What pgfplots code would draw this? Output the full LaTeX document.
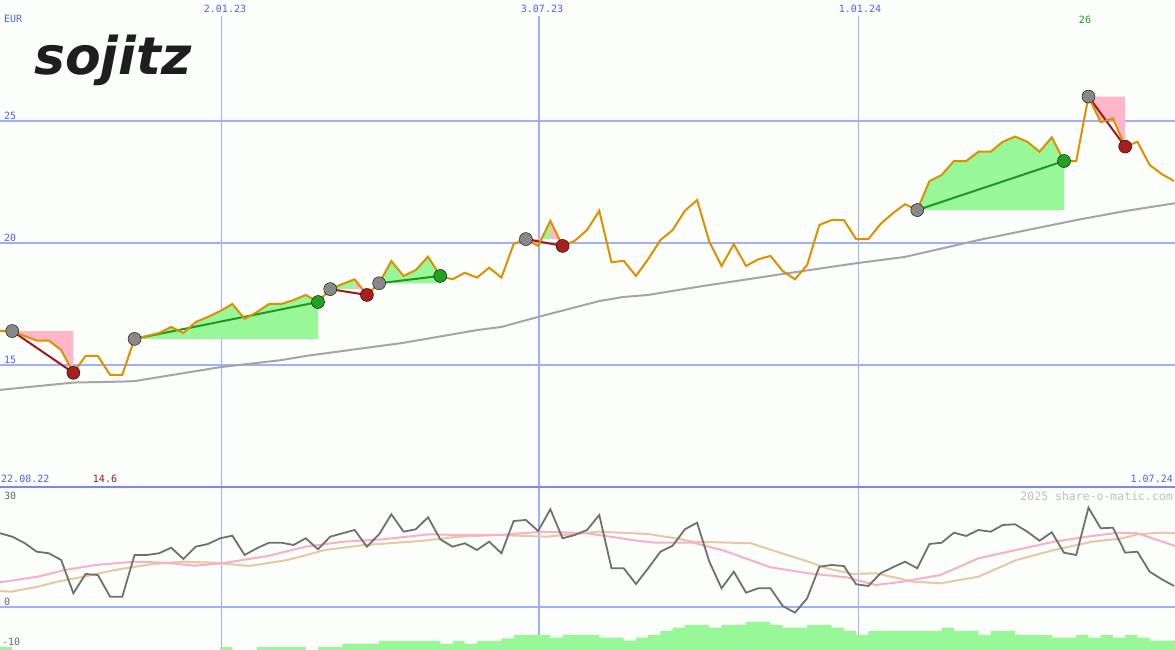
\documentclass[border=0pt]{standalone}
\usepackage{pgfplots}
\pgfplotsset{compat=1.18}
\usepackage{pgfplotstable}
\usepackage{fontspec}
\newfontfamily\mono{DejaVu Sans Mono}
\newfontfamily\logofont{DejaVu Sans}

\definecolor{bg}{RGB}{252,254,252}
\definecolor{gridc}{RGB}{160,176,248}
\definecolor{sepc}{RGB}{120,136,240}
\definecolor{labc}{RGB}{80,96,240}
\definecolor{pricec}{RGB}{221,144,0}
\definecolor{mac}{RGB}{165,165,165}
\definecolor{winfill}{RGB}{152,248,152}
\definecolor{lossfill}{RGB}{255,182,200}
\definecolor{wline}{RGB}{34,150,34}
\definecolor{lline}{RGB}{160,24,24}
\definecolor{entryc}{RGB}{136,136,136}
\definecolor{windot}{RGB}{34,160,34}
\definecolor{lossdot}{RGB}{170,30,30}
\definecolor{oscc}{RGB}{112,112,112}
\definecolor{pinkc}{RGB}{248,176,200}
\definecolor{tanc}{RGB}{232,200,160}
\definecolor{barc}{RGB}{152,248,152}
\definecolor{logoc}{RGB}{30,30,30}
\definecolor{minc}{RGB}{160,24,24}
\definecolor{maxc}{RGB}{34,150,34}

% weekly closing price (EUR), week index k
\pgfplotstableread{
k p
0 16.39
1 16.39
2 16.19
3 16.00
4 16.00
5 15.61
6 14.68
7 15.37
8 15.37
9 14.60
10 14.60
11 16.07
12 16.19
13 16.31
14 16.56
15 16.31
16 16.76
17 16.97
18 17.21
19 17.50
20 16.89
21 17.17
22 17.50
23 17.50
24 17.66
25 17.87
26 17.58
27 18.11
28 18.32
29 18.51
30 17.87
31 18.35
32 19.26
33 18.65
34 18.89
35 19.44
36 18.65
37 18.51
38 18.78
39 18.58
40 18.99
41 18.58
42 19.96
43 20.16
44 19.88
45 20.91
46 19.88
47 20.09
48 20.53
49 21.32
50 19.21
51 19.27
52 18.65
53 19.34
54 20.12
55 20.53
56 21.32
57 21.76
58 20.05
59 19.06
60 19.95
61 19.06
62 19.33
63 19.47
64 18.85
65 18.51
66 19.10
67 20.74
68 20.94
69 20.94
70 20.16
71 20.16
72 20.78
73 21.22
74 21.59
75 21.35
76 22.54
77 22.79
78 23.36
79 23.36
80 23.74
81 23.74
82 24.15
83 24.36
84 24.15
85 23.74
86 24.33
87 23.36
88 23.36
89 26.00
90 24.95
91 25.11
92 23.95
93 24.15
94 23.20
95 22.82
96 22.54
}\price

% moving average
\pgfplotstableread{
k m
0 13.98
6 14.28
10 14.32
11 14.34
18 14.91
23 15.20
25 15.37
33 15.91
39 16.43
41 16.56
44 16.97
49 17.62
51 17.79
53 17.87
57 18.20
64 18.73
70 19.17
74 19.43
80 20.12
88 20.94
92 21.31
96.08 21.63
}\ma

% oscillator
\pgfplotstableread{
k v
0 21.06
1 20.09
2 18.29
3 15.80
4 15.34
5 13.43
6 3.91
7 9.43
8 9.14
9 2.94
10 2.94
11 14.86
12 14.86
13 15.34
14 16.94
15 13.71
16 17.23
17 18.00
18 19.63
19 20.37
20 14.86
21 16.77
22 18.37
23 18.37
24 17.71
25 19.63
26 16.49
27 20.09
28 21.06
29 22.00
30 17.23
31 20.77
32 26.49
33 21.51
34 22.20
35 25.63
36 19.34
37 17.23
38 18.20
39 16.29
40 18.66
41 15.34
42 24.57
43 24.86
44 21.71
45 27.91
46 19.63
47 20.57
48 22.00
49 26.29
50 11.06
51 11.06
52 6.57
53 11.06
54 15.80
55 17.51
56 22.20
57 24.09
58 12.94
59 5.34
60 10.09
61 4.09
62 5.34
63 5.34
64 0.29
65 -1.63
66 2.49
67 11.51
68 12.00
69 11.71
70 6.49
71 6.00
72 9.63
73 11.34
74 12.94
75 11.06
76 18.00
77 18.37
78 21.23
79 20.29
80 22.00
81 21.51
82 23.43
83 23.63
84 21.51
85 18.94
86 21.34
87 15.51
88 14.86
89 28.37
90 22.49
91 22.66
92 15.51
93 15.80
94 10.09
95 7.91
96 6.00
}\osc

\pgfplotstableread{
k v
0 7.06
3.1 8.66
5.3 10.57
7.85 12.00
10.96 12.94
13.5 12.66
15.9 11.80
18.15 12.49
21.9 14.57
25.0 17.23
28.1 18.66
31.3 19.34
35.1 20.77
37.5 20.57
40.7 20.57
44.4 21.51
48 21.06
52.1 18.94
53.6 18.37
56.7 18.37
59.2 16.09
63 11.34
66.1 9.63
69.2 8.49
71.6 6.29
73.8 7.23
76.9 9.14
80 13.91
83.1 16.29
86.2 18.66
89.3 20.29
91.5 21.23
93 21.06
96.08 17.43
}\pinkline

\pgfplotstableread{
k v
0 4.57
0.94 4.37
3.1 5.80
4.66 7.23
6.87 8.66
9.4 10.57
12.5 12.29
15 12.94
17.5 12.66
20.4 11.71
23.5 13.43
26.6 16.29
29.8 17.71
34.4 18.86
37.5 20.09
40.7 20.57
44.7 20.09
49 21.51
53 20.86
55.2 19.63
56.7 18.66
61.4 18.20
63.5 15.80
66.1 12.94
67.6 11.06
69.7 9.43
71.6 9.63
74.7 7.23
76.9 6.77
80 8.66
83.1 13.43
86.2 16.29
89.3 18.66
91.8 19.63
93 20.77
94.9 21.23
96.08 21.06
}\tanline

\pgfplotstableread{
k v
0 -11.5
1 -13
18 -11.5
19 -13
21 -11.5
25 -13
26 -11.5
28 -10.57
31 -9.71
36 -10.57
37 -9.71
38 -10.57
39 -9.71
41 -8.94
42 -8.0
45 -8.77
46 -8.0
49 -8.77
51 -9.63
52 -8.77
53 -8.0
54 -6.86
55 -5.91
56 -5.14
58 -5.91
59 -5.14
61 -4.29
63 -5.14
64 -5.91
66 -5.14
68 -5.91
69 -6.86
70 -8.0
71 -6.86
77 -5.91
78 -6.86
80 -8.0
81 -6.86
83 -8.0
86 -8.77
88 -8.0
89 -8.77
90 -8.0
91 -8.77
92 -8.0
93 -8.77
94 -9.63
96.1 -9.63
}\bars

\begin{document}
\begin{tikzpicture}[x=1pt,y=1pt]
\path[use as bounding box, fill=bg] (0pt,0pt) rectangle (1175pt,650pt);
% grid
\draw[gridc, line width=2pt] (0pt,529pt) -- (1175pt,529pt);
\draw[gridc, line width=2pt] (0pt,407pt) -- (1175pt,407pt);
\draw[gridc, line width=2pt] (0pt,285pt) -- (1175pt,285pt);
\draw[gridc, line width=2pt] (0pt,43pt) -- (1175pt,43pt);
\draw[gridc, line width=1pt] (221.5pt,0pt) -- (221.5pt,634pt);
\draw[gridc, line width=2pt] (539pt,0pt) -- (539pt,634pt);
\draw[gridc, line width=1pt] (858.5pt,0pt) -- (858.5pt,634pt);
\draw[sepc, line width=2pt] (0pt,162.5pt) -- (1175pt,162.5pt);

% main price panel
\begin{axis}[at={(0pt,163pt)}, anchor=south west, scale only axis,
  width=1175pt, height=487pt, xmin=0, xmax=96.08, ymin=10, ymax=29.959,
  hide axis, clip=true]
% trade areas
\addplot[fill=lossfill, draw=none] coordinates {(1,16.39) (2,16.19) (3,16.00) (4,16.00) (5,15.61) (6,14.68) (6,16.39)} -- cycle;
\addplot[fill=winfill, draw=none] coordinates {(11,16.07) (12,16.19) (13,16.31) (14,16.56) (15,16.31) (16,16.76) (17,16.97) (18,17.21) (19,17.50) (20,16.89) (21,17.17) (22,17.50) (23,17.50) (24,17.66) (25,17.87) (26,17.58) (26,16.07)} -- cycle;
\addplot[fill=winfill, draw=none] coordinates {(27,18.11) (28,18.32) (29,18.51) (29,18.11)} -- cycle;
\addplot[fill=lossfill, draw=none] coordinates {(29,18.11) (29,18.51) (30,17.87) (30,18.11)} -- cycle;
\addplot[fill=winfill, draw=none] coordinates {(31,18.35) (32,19.26) (33,18.65) (34,18.89) (35,19.44) (36,18.65) (36,18.35)} -- cycle;
\addplot[fill=lossfill, draw=none] coordinates {(43,20.16) (44,19.88) (45,20.91) (46,19.88) (46,20.16)} -- cycle;
\addplot[fill=winfill, draw=none] coordinates {(44.27,20.16) (45,20.91) (45,20.16)} -- cycle;
\addplot[fill=winfill, draw=none] coordinates {(75,21.35) (76,22.54) (77,22.79) (78,23.36) (79,23.36) (80,23.74) (81,23.74) (82,24.15) (83,24.36) (84,24.15) (85,23.74) (86,24.33) (87,23.36) (87,21.35)} -- cycle;
\addplot[fill=lossfill, draw=none] coordinates {(89,26.00) (90,24.95) (91,25.11) (92,23.95) (92,26.00)} -- cycle;
% moving average
\addplot[mac, line width=2pt, no marks] table[x=k,y=m] {\ma};
% trade lines
\addplot[lline, line width=2pt, no marks] coordinates {(1,16.39) (6,14.68)};
\addplot[wline, line width=2pt, no marks] coordinates {(11,16.07) (26,17.58)};
\addplot[lline, line width=2pt, no marks] coordinates {(27,18.11) (30,17.87)};
\addplot[wline, line width=2pt, no marks] coordinates {(31,18.35) (36,18.65)};
\addplot[lline, line width=2pt, no marks] coordinates {(43,20.16) (46,19.88)};
\addplot[wline, line width=2pt, no marks] coordinates {(75,21.35) (87,23.36)};
\addplot[lline, line width=2pt, no marks] coordinates {(89,26.00) (92,23.95)};
% dots
\addplot[only marks, mark=*, mark size=6.5pt, mark options={draw=none, fill=entryc}] coordinates {(1,16.39) (11,16.07) (27,18.11) (31,18.35) (43,20.16) (75,21.35) (89,26.00)};
\addplot[only marks, mark=*, mark size=6.5pt, mark options={draw=none, fill=windot}] coordinates {(26,17.58) (36,18.65) (87,23.36)};
\addplot[only marks, mark=*, mark size=6.5pt, mark options={draw=none, fill=lossdot}] coordinates {(6,14.68) (30,17.87) (46,19.88) (92,23.95)};
% price
\addplot[pricec, line width=2pt, no marks] table[x=k,y=p] {\price};
\end{axis}

% lower indicator panel
\begin{axis}[at={(0pt,0pt)}, anchor=south west, scale only axis,
  width=1175pt, height=162pt, xmin=0, xmax=96.08, ymin=-12.29, ymax=34.0,
  hide axis, clip=true]
\addplot[fill=barc, draw=none, const plot mark left] table[x=k,y=v] {\bars} -- (96.1,-13) -- (0,-13) -- cycle;
\addplot[tanc, line width=2pt, no marks] table[x=k,y=v] {\tanline};
\addplot[pinkc, line width=2pt, no marks] table[x=k,y=v] {\pinkline};
\addplot[oscc, line width=1.8pt, no marks] table[x=k,y=v] {\osc};
\end{axis}

% texts
\begin{scope}[every node/.style={inner sep=0pt, font=\mono\fontsize{10}{12}\selectfont}]
\node[anchor=west, text=labc] at (4pt,631pt) {EUR};
\node[anchor=west, text=labc] at (4pt,534pt) {25};
\node[anchor=west, text=labc] at (4pt,412pt) {20};
\node[anchor=west, text=labc] at (4pt,290pt) {15};
\node[text=labc] at (225pt,641pt) {2.01.23};
\node[text=labc] at (542pt,641pt) {3.07.23};
\node[text=labc] at (860pt,641pt) {1.01.24};
\node[text=maxc] at (1085pt,630pt) {26};
\node[anchor=west, text=labc] at (1pt,171pt) {22.08.22};
\node[text=minc] at (105pt,171pt) {14.6};
\node[anchor=east, text=labc] at (1173pt,171pt) {1.07.24};
\node[anchor=west, text=black!60] at (4pt,154pt) {30};
\node[anchor=west, text=black!60] at (4pt,48pt) {0};
\node[anchor=west, text=black!60] at (2pt,8pt) {-10};
\node[anchor=east, text=black!25, font=\mono\fontsize{11.5}{13}\selectfont] at (1173pt,154pt) {2025 share-o-matic.com};
\end{scope}
\node[inner sep=0pt, text=logoc] at (113pt,590pt) {\logofont\bfseries\itshape\fontsize{52}{52}\selectfont sojitz};
\end{tikzpicture}
\end{document}
